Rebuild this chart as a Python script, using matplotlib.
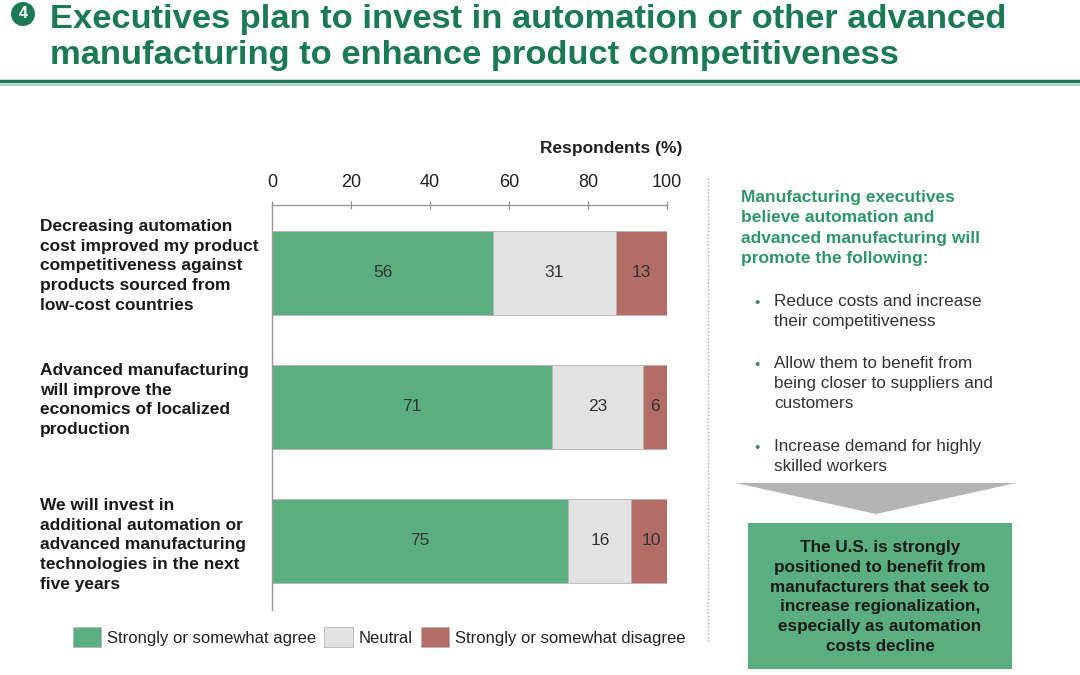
import numpy as np
import matplotlib.pyplot as plt
from matplotlib.patches import Ellipse, Polygon, Rectangle
from matplotlib.lines import Line2D

plt.rcParams['font.family'] = ['Liberation Sans', 'DejaVu Sans']

questions = ['Decreasing automation\ncost improved my product\ncompetitiveness against\nproducts sourced from\nlow-cost countries',
             'Advanced manufacturing\nwill improve the\neconomics of localized\nproduction',
             'We will invest in\nadditional automation or\nadvanced manufacturing\ntechnologies in the next\nfive years']
agree = [56, 71, 75]
neutral = [31, 23, 16]
disagree = [13, 6, 10]
series_names = ['Strongly or somewhat agree', 'Neutral', 'Strongly or somewhat disagree']
xticks = [0, 20, 40, 60, 80, 100]

title_lines = ['Executives plan to invest in automation or other advanced',
               'manufacturing to enhance product competitiveness']
side_head = 'Manufacturing executives\nbelieve automation and\nadvanced manufacturing will\npromote the following:'
bullets = ['Reduce costs and increase\ntheir competitiveness',
           'Allow them to benefit from\nbeing closer to suppliers and\ncustomers',
           'Increase demand for highly\nskilled workers']
box_text = 'The U.S. is strongly\npositioned to benefit from\nmanufacturers that seek to\nincrease regionalization,\nespecially as automation\ncosts decline'

GREEN = '#5aae80'
GREY = '#e2e2e2'
RED = '#b46c66'
TITLE_GREEN = '#1b7a54'

W, H = 1080, 675
fig = plt.figure(figsize=(10.8, 6.75), dpi=100)

def fx(px):
    return px / W

def fy(py):
    return 1 - py / H

# title area
fig.add_artist(Ellipse((fx(23), fy(14)), 24 / W, 24 / H, transform=fig.transFigure,
                       facecolor=TITLE_GREEN, edgecolor='none'))
fig.text(fx(23), fy(14), '4', color='white', fontsize=11.5, fontweight='bold',
         ha='center', va='center')
for yb, line in zip([28, 64], title_lines):
    fig.text(fx(50), fy(yb), line, color=TITLE_GREEN, fontsize=24.8, fontweight='bold',
             ha='left', va='baseline')
fig.add_artist(Line2D([0, 1], [fy(81), fy(81)], transform=fig.transFigure,
                      color=TITLE_GREEN, lw=2.5))
fig.add_artist(Line2D([0, 1], [fy(84.5), fy(84.5)], transform=fig.transFigure,
                      color='#9ccfb3', lw=1.2))

# chart
ax = fig.add_axes([fx(272), fy(610), fx(667) - fx(272), fy(205) - fy(610)])
y = np.arange(len(questions))
h = 0.627
left = np.zeros(len(questions))
for vals, col, name in zip([agree, neutral, disagree], [GREEN, GREY, RED], series_names):
    ax.barh(y, vals, left=left, height=h, color=col, edgecolor='#b5b5b5',
            linewidth=0.6, label=name)
    for yi, l, v in zip(y, left, vals):
        ax.text(l + v / 2, yi, str(v), ha='center', va='center', fontsize=12.5, color='#333333')
    left = left + np.array(vals)

ax.set_xlim(0, 100)
ax.set_ylim(2.515, -0.507)
ax.xaxis.tick_top()
ax.set_xticks(xticks)
ax.tick_params(axis='x', direction='inout', length=6, color='#888888', labelsize=13,
               pad=7, labelcolor='#222222')
ax.set_yticks([])
for s in ['right', 'bottom']:
    ax.spines[s].set_visible(False)
for s in ['top', 'left']:
    ax.spines[s].set_color('#999999')
    ax.spines[s].set_linewidth(1)

fig.text(fx(682), fy(148), 'Respondents (%)', ha='right', va='center', fontsize=12.5,
         fontweight='bold', color='#222222')

for yi, q in zip([266, 400, 545], questions):
    fig.text(fx(40), fy(yi), q, ha='left', va='center', fontsize=12.5, fontweight='bold',
             color='#1a1a1a', linespacing=1.4)

handles, labels = ax.get_legend_handles_labels()
fig.legend(handles, labels, loc='center', bbox_to_anchor=(fx(379), fy(637)), ncol=3,
           frameon=False, fontsize=12, handlelength=1.7, handleheight=1.4,
           columnspacing=0.5, handletextpad=0.35, labelcolor='#222222')

# right panel
fig.add_artist(Line2D([fx(708), fx(708)], [fy(178), fy(642)], transform=fig.transFigure,
                      color='#aaaaaa', lw=1, linestyle=(0, (1, 1.5))))
fig.text(fx(741), fy(190), side_head, ha='left', va='top', fontsize=12.5, fontweight='bold',
         color='#2e9667', linespacing=1.45)
for yb, b in zip([294, 356, 439], bullets):
    fig.text(fx(757), fy(yb + 9), '•', ha='center', va='center', fontsize=11, color='#3a8f68')
    fig.text(fx(774), fy(yb), b, ha='left', va='top', fontsize=12.3, color='#333333',
             linespacing=1.4)

fig.add_artist(Polygon([(fx(736), fy(483)), (fx(1016), fy(483)), (fx(876), fy(514))],
                       closed=True, transform=fig.transFigure, facecolor='#b3b3b3',
                       edgecolor='none'))
fig.add_artist(Rectangle((fx(748), fy(669)), fx(1012) - fx(748), fy(523) - fy(669),
                         transform=fig.transFigure, facecolor=GREEN, edgecolor='none'))
fig.text(fx(880), fy(597), box_text, ha='center', va='center', fontsize=12.3, fontweight='bold',
         color='#1a1a1a', linespacing=1.4)

fig.savefig('out.png', dpi=100)
